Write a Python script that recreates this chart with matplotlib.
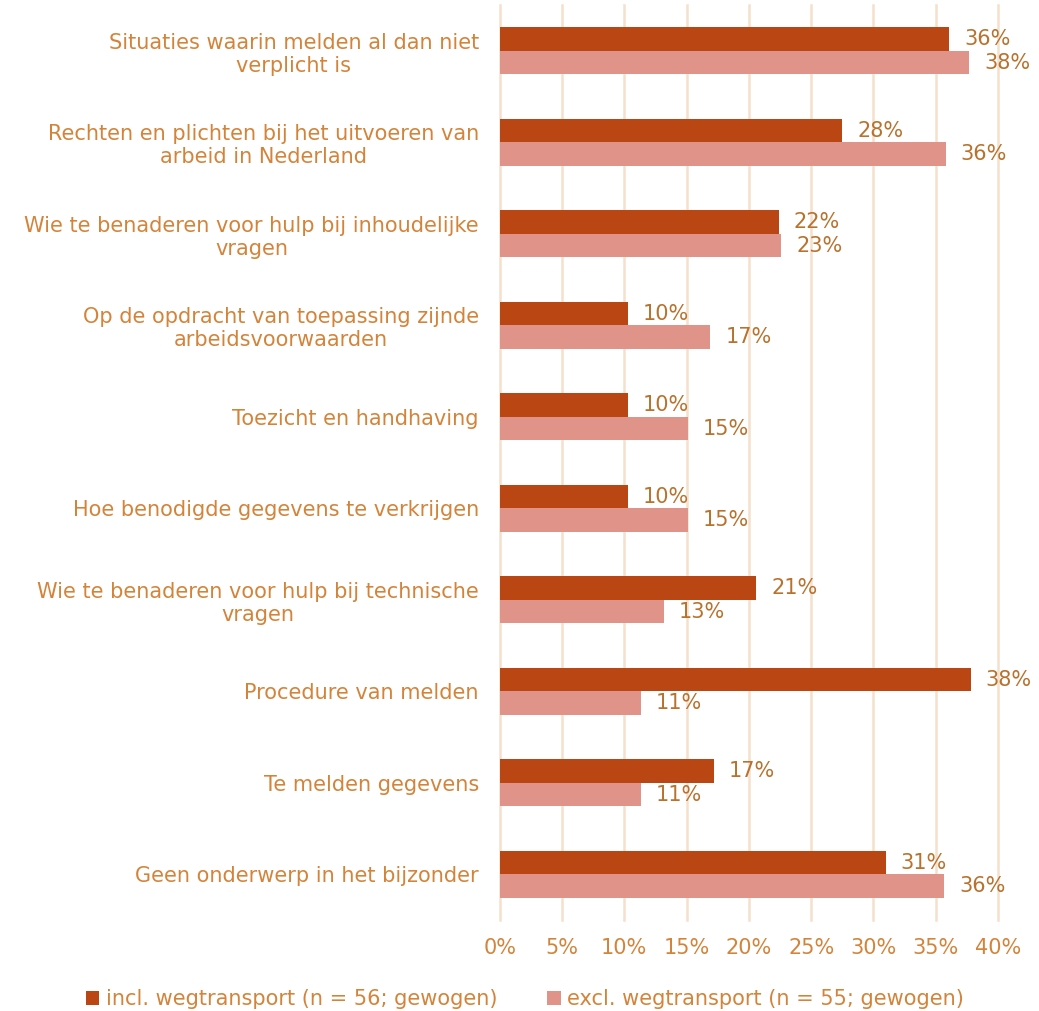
import matplotlib
matplotlib.use("Agg")
import matplotlib.pyplot as plt
import numpy as np

categories = [
    "Situaties waarin melden al dan niet\nverplicht is",
    "Rechten en plichten bij het uitvoeren van\narbeid in Nederland",
    "Wie te benaderen voor hulp bij inhoudelijke\nvragen",
    "Op de opdracht van toepassing zijnde\narbeidsvoorwaarden",
    "Toezicht en handhaving",
    "Hoe benodigde gegevens te verkrijgen",
    "Wie te benaderen voor hulp bij technische\nvragen",
    "Procedure van melden",
    "Te melden gegevens",
    "Geen onderwerp in het bijzonder",
]
incl = [36.1, 27.5, 22.4, 10.3, 10.3, 10.3, 20.6, 37.8, 17.2, 31.0]
excl = [37.7, 35.8, 22.6, 16.9, 15.1, 15.1, 13.2, 11.3, 11.3, 35.7]
incl_labels = ["36%", "28%", "22%", "10%", "10%", "10%", "21%", "38%", "17%", "31%"]
excl_labels = ["38%", "36%", "23%", "17%", "15%", "15%", "13%", "11%", "11%", "36%"]
series_names = ["incl. wegtransport (n = 56; gewogen)", "excl. wegtransport (n = 55; gewogen)"]

dark = "#BA4614"
light = "#E09388"
text_col = "#D4843A"
label_col = "#B8722E"
grid_col = "#F5E0CC"
fs = 15

fig = plt.figure(figsize=(10.39, 10.11), dpi=100)
ax = fig.add_axes([0.481, 0.09, 0.4795, 0.905])

y = np.arange(len(categories))
h = 0.257
ax.barh(y - h / 2, incl, height=h, color=dark, label=series_names[0], zorder=2)
ax.barh(y + h / 2, excl, height=h, color=light, label=series_names[1], zorder=2)

for i in range(len(categories)):
    ax.text(incl[i] + 1.2, y[i] - h / 2, incl_labels[i], va="center", ha="left",
            fontsize=fs, color=label_col)
    ax.text(excl[i] + 1.2, y[i] + h / 2, excl_labels[i], va="center", ha="left",
            fontsize=fs, color=label_col)

ax.set_xlim(0, 40)
ax.set_ylim(len(categories) - 0.5, -0.5)
ax.set_xticks(np.arange(0, 41, 5))
ax.set_xticklabels([f"{v}%" for v in range(0, 41, 5)])
ax.set_yticks(y)
ax.set_yticklabels(categories, ha="right")
ax.tick_params(axis="both", length=0, labelsize=fs, labelcolor=text_col)
ax.tick_params(axis="x", pad=13)
ax.tick_params(axis="y", pad=15)
for lbl in ax.get_yticklabels():
    lbl.set_multialignment("center")
ax.grid(axis="x", color=grid_col, linewidth=1.8, zorder=0)
for line in ax.get_xgridlines():
    line.set_clip_on(False)
for s in ax.spines.values():
    s.set_visible(False)

fig.legend(loc="lower center", bbox_to_anchor=(0.505, -0.017), ncol=2, frameon=False,
           fontsize=fs, labelcolor=text_col, handlelength=0.65, handleheight=0.65,
           handletextpad=0.3, columnspacing=2.4)

fig.savefig("out.png", dpi=100)
